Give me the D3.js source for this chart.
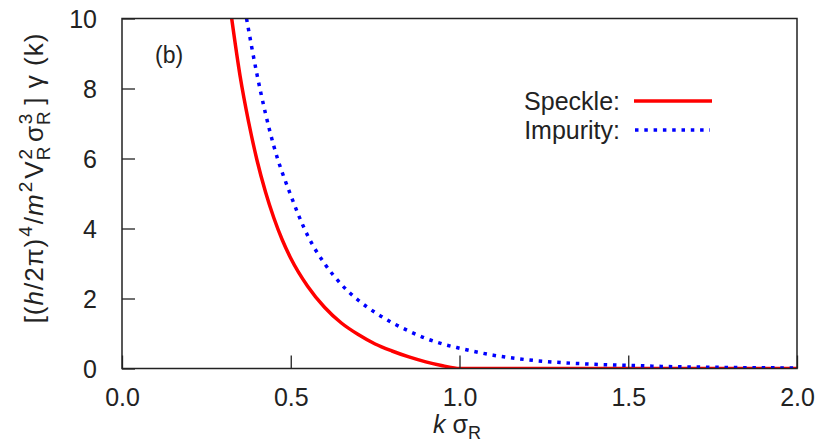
<!DOCTYPE html>
<html>
<head>
<meta charset="utf-8">
<script src="https://cdn.jsdelivr.net/npm/d3@7"></script>
<style>
  html, body { margin: 0; padding: 0; background: #fff; }
  svg { display: block; }
  text { font-family: "Liberation Sans", Arial, Helvetica, sans-serif; fill: #222; }
</style>
</head>
<body>
<svg id="chart" width="817" height="446"></svg>
<script>
// ---- data ----
const speckleK = [0.325, 0.35, 0.375, 0.40, 0.425, 0.45, 0.475, 0.50, 0.55, 0.60, 0.65, 0.70, 0.75, 0.80, 0.85, 0.90, 0.95, 1.0, 1.5, 2.0];
const speckleG = [10.0, 8.35, 7.05, 5.95, 5.05, 4.3, 3.67, 3.15, 2.35, 1.75, 1.3, 0.97, 0.70, 0.50, 0.33, 0.19, 0.08, 0.0, 0.0, 0.0];
const impurityK = [0.369, 0.40, 0.45, 0.50, 0.55, 0.60, 0.65, 0.70, 0.75, 0.80, 0.85, 0.90, 0.95, 1.0, 1.1, 1.2, 1.3, 1.4, 1.5, 1.6, 1.75, 1.9, 2.0];
const impurityG = [10.0, 8.4, 6.35, 4.95, 3.8, 3.0, 2.4, 1.95, 1.6, 1.31, 1.07, 0.86, 0.70, 0.58, 0.38, 0.25, 0.17, 0.12, 0.09, 0.06, 0.035, 0.02, 0.015];
const xTicks = [0, 0.5, 1.0, 1.5, 2.0];
const yTicks = [0, 2, 4, 6, 8, 10];
const seriesNames = ["Speckle:", "Impurity:"];

// ---- layout ----
const svg = d3.select("#chart");
const pL = 122, pR = 797, pT = 18.5, pB = 368.5;
const x = d3.scaleLinear().domain([0, 2]).range([pL, pR]);
const y = d3.scaleLinear().domain([0, 10]).range([pB, pT]);

svg.append("defs").append("clipPath").attr("id", "clip")
  .append("rect").attr("x", pL).attr("y", pT).attr("width", pR - pL).attr("height", pB - pT);

// curves
const line = d3.line().x(d => x(d[0])).y(d => y(d[1])).curve(d3.curveMonotoneX);
const speckle = speckleK.map((k, i) => [k, speckleG[i]]);
const impurity = impurityK.map((k, i) => [k, impurityG[i]]);

const g = svg.append("g").attr("clip-path", "url(#clip)");
g.append("path").datum(speckle).attr("d", line)
  .attr("fill", "none").attr("stroke", "#ff0000").attr("stroke-width", 3.5);
g.append("path").datum(impurity).attr("d", line)
  .attr("fill", "none").attr("stroke", "#0000ff").attr("stroke-width", 3.5)
  .attr("stroke-dasharray", "3.5,5.8");

// axes (ticks inward, no mirror)
const xAxis = d3.axisBottom(x).tickValues(xTicks).tickSize(-13).tickPadding(20)
  .tickFormat(d3.format(".1f"));
const yAxis = d3.axisLeft(y).tickValues(yTicks).tickSize(-13).tickPadding(25)
  .tickFormat(d3.format("d"));

const gx = svg.append("g").attr("transform", `translate(0,${pB})`).call(xAxis);
const gy = svg.append("g").attr("transform", `translate(${pL},0)`).call(yAxis);
[gx, gy].forEach(a => {
  a.select(".domain").remove();
  a.selectAll(".tick line").attr("stroke", "#222").attr("stroke-width", 1.3);
  a.selectAll(".tick text").attr("font-size", 25).attr("fill", "#222")
    .style("font-family", '"Liberation Sans", Arial, sans-serif');
});
gy.selectAll(".tick text").attr("dy", "0.36em");
gx.selectAll(".tick text").attr("dy", "0.68em");

// frame
svg.append("rect").attr("x", pL).attr("y", pT).attr("width", pR - pL).attr("height", pB - pT)
  .attr("fill", "none").attr("stroke", "#222").attr("stroke-width", 1.5);

// panel label
svg.append("text").attr("x", 155).attr("y", 63).attr("font-size", 23).text("(b)");

// legend
const legY = [101, 130];
seriesNames.forEach((name, i) => {
  svg.append("text").attr("x", 620).attr("y", legY[i]).attr("dy", "0.36em")
    .attr("text-anchor", "end").attr("font-size", 25).text(name);
});
svg.append("line").attr("x1", 634).attr("x2", 712).attr("y1", legY[0]).attr("y2", legY[0])
  .attr("stroke", "#ff0000").attr("stroke-width", 3.5);
svg.append("line").attr("x1", 635).attr("x2", 710).attr("y1", legY[1]).attr("y2", legY[1])
  .attr("stroke", "#0000ff").attr("stroke-width", 3.5).attr("stroke-dasharray", "3.5,5.8");

// x-axis title
const xt = svg.append("text").attr("x", 457).attr("y", 433).attr("text-anchor", "middle").attr("font-size", 25);
xt.append("tspan").attr("font-style", "italic").text("k");
xt.append("tspan").text(" σ");
xt.append("tspan").attr("font-size", 18).attr("dy", 6).text("R");

// y-axis title (rotated)
const yt = svg.append("text").attr("transform", "translate(43,178) rotate(-90)")
  .attr("text-anchor", "middle").attr("font-size", 26).attr("letter-spacing", 1);
yt.append("tspan").text("[(");
yt.append("tspan").attr("font-style", "italic").text("h");
yt.append("tspan").text("/2π)");
yt.append("tspan").attr("font-size", 19).attr("dy", -11).attr("dx", 1).text("4");
yt.append("tspan").attr("dy", 11).attr("dx", 1).text("/");
yt.append("tspan").attr("font-style", "italic").text("m");
yt.append("tspan").attr("font-size", 19).attr("dy", -11).attr("dx", 1).text("2");
yt.append("tspan").attr("dy", 11).attr("dx", 2).text("V");
yt.append("tspan").attr("font-size", 19).attr("dy", 7).text("R");
yt.append("tspan").attr("font-size", 19).attr("dy", -18).attr("dx", -14).text("2");
yt.append("tspan").attr("dy", 11).attr("dx", 6).text("σ");
yt.append("tspan").attr("font-size", 19).attr("dy", 7).text("R");
yt.append("tspan").attr("font-size", 19).attr("dy", -18).attr("dx", -14).text("3");
yt.append("tspan").attr("dy", 11).attr("dx", 8).text("] γ (k)");
</script>
</body>
</html>
